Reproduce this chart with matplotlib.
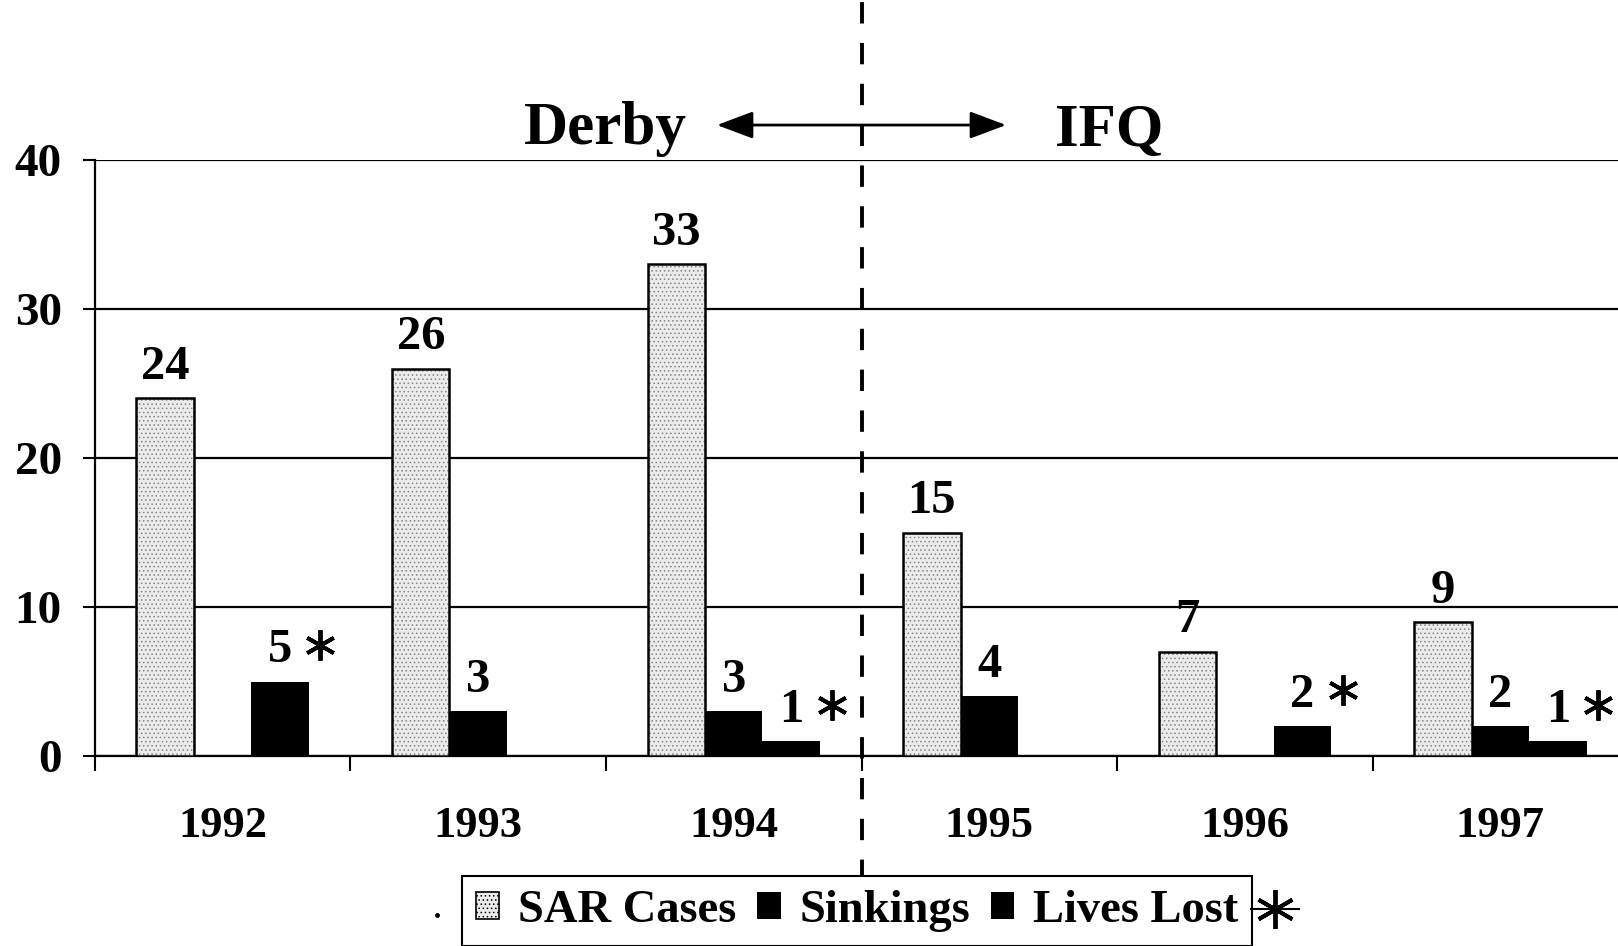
"""
SAR cases, sinkings and lives lost per year, Derby vs IFQ period.
"""

import numpy as np
import matplotlib.pyplot as plt
from matplotlib.patches import Patch
from matplotlib.lines import Line2D
from matplotlib.transforms import ScaledTranslation

years = ["1992", "1993", "1994", "1995", "1996", "1997"]
sar_cases = [24, 26, 33, 15, 7, 9]
sinkings = [0, 3, 3, 4, 0, 2]
lives_lost = [5, 0, 1, 0, 2, 1]
series_names = ["SAR Cases", "Sinkings", "Lives Lost"]

plt.rcParams["font.family"] = ["Liberation Serif", "DejaVu Serif"]
plt.rcParams["font.weight"] = "bold"
plt.rcParams["hatch.linewidth"] = 0.6

sar_fill = "#ebebeb"

fig = plt.figure(figsize=(16.18, 9.46), dpi=100)
ax = fig.add_axes([0.0587, 0.2008, 0.9475, 0.630])

x = np.arange(len(years))
w = 0.225

# stippled SAR bars: dotted fill + black outline
ax.bar(x - w, sar_cases, w, color=sar_fill, edgecolor="#858585", hatch="....",
       linewidth=0, zorder=3)
ax.bar(x - w, sar_cases, w, fill=False, edgecolor="black", linewidth=1.8, zorder=4)
ax.bar(x, sinkings, w, color="black", zorder=3)
ax.bar(x + w, lives_lost, w, color="black", zorder=3)

# value labels
lab_kw = dict(textcoords="offset points", ha="center", va="baseline",
              fontsize=35, fontweight="bold")
for xi, v in zip(x - w, sar_cases):
    ax.annotate(str(v), (xi, v), xytext=(0, 14), **lab_kw)
for xi, v in zip(x, sinkings):
    if v > 0:
        ax.annotate(str(v), (xi, v), xytext=(0, 14), **lab_kw)

star_shift = ax.transData + ScaledTranslation(29 / 72, 26 / 72, fig.dpi_scale_trans)
for xi, v in zip(x + w, lives_lost):
    if v > 0:
        ax.annotate(str(v), (xi, v), xytext=(0, 14), **lab_kw)
        ax.plot([xi], [v], marker=(6, 2, 0), ms=22, mew=2.8, color="black",
                transform=star_shift, clip_on=False, zorder=6)

# axes styling
ax.set_xlim(-0.5, 5.5)
ax.set_ylim(0, 40)
ax.set_yticks([0, 10, 20, 30, 40])
ax.yaxis.grid(True, color="black", linewidth=1.6)
ax.set_axisbelow(True)
ax.tick_params(axis="y", length=9, width=1.5, pad=15, labelsize=34)

ax.set_xticks(x, years)
ax.set_xticks(np.arange(-0.5, 6, 1), minor=True)
ax.tick_params(axis="x", which="major", length=0, pad=36, labelsize=32)
ax.tick_params(axis="x", which="minor", length=11, width=1.5, direction="out")

for side in ["top", "right"]:
    ax.spines[side].set_visible(False)
for side in ["left", "bottom"]:
    ax.spines[side].set_linewidth(1.6)

# Derby / IFQ divider
ax.axvline(2.5, ymin=-0.21, ymax=1.3, color="black", linewidth=2.8,
           linestyle=(0, (5.5, 5)), clip_on=False, zorder=5)
ax.annotate("", xy=(1.934, 42.35), xytext=(3.066, 42.35),
            arrowprops=dict(arrowstyle="<|-|>,head_length=0.8,head_width=0.3",
                            lw=2, color="black", mutation_scale=28,
                            shrinkA=0, shrinkB=0),
            annotation_clip=False)
ax.text(1.498, 41.1, "Derby", ha="center", va="baseline", fontsize=44,
        fontweight="bold", clip_on=False)
ax.text(3.468, 40.95, "IFQ", ha="center", va="baseline", fontsize=44,
        fontweight="bold", clip_on=False)

# legend at the bottom
handles = [
    Patch(facecolor=sar_fill, edgecolor="black", linewidth=1.2, hatch="...."),
    Patch(facecolor="black"),
    Patch(facecolor="black"),
]
leg = fig.legend(handles, series_names, loc="center",
                 bbox_to_anchor=(0.5297, 0.037), ncol=3, frameon=True,
                 fancybox=False, edgecolor="black", framealpha=1,
                 prop=dict(size=33.5, weight="bold"), handlelength=0.5,
                 handleheight=0.5, handletextpad=0.4, columnspacing=0.45,
                 borderpad=0.3, borderaxespad=0)
leg.get_frame().set_linewidth(1.5)

# asterisk key hanging off the legend, and the small stray dot on the left
fig.add_artist(Line2D([0.773, 0.803], [0.039, 0.039], transform=fig.transFigure,
                      color="black", lw=1.5, zorder=7))
fig.add_artist(Line2D([0.788], [0.039], marker=(6, 2, 0), ms=28, mew=2.8,
                      color="black", transform=fig.transFigure, zorder=7))
fig.add_artist(Line2D([0.2700], [0.033], marker="o", ms=2.5, color="black",
                      transform=fig.transFigure, zorder=7))

plt.savefig("out.png", dpi=100)
